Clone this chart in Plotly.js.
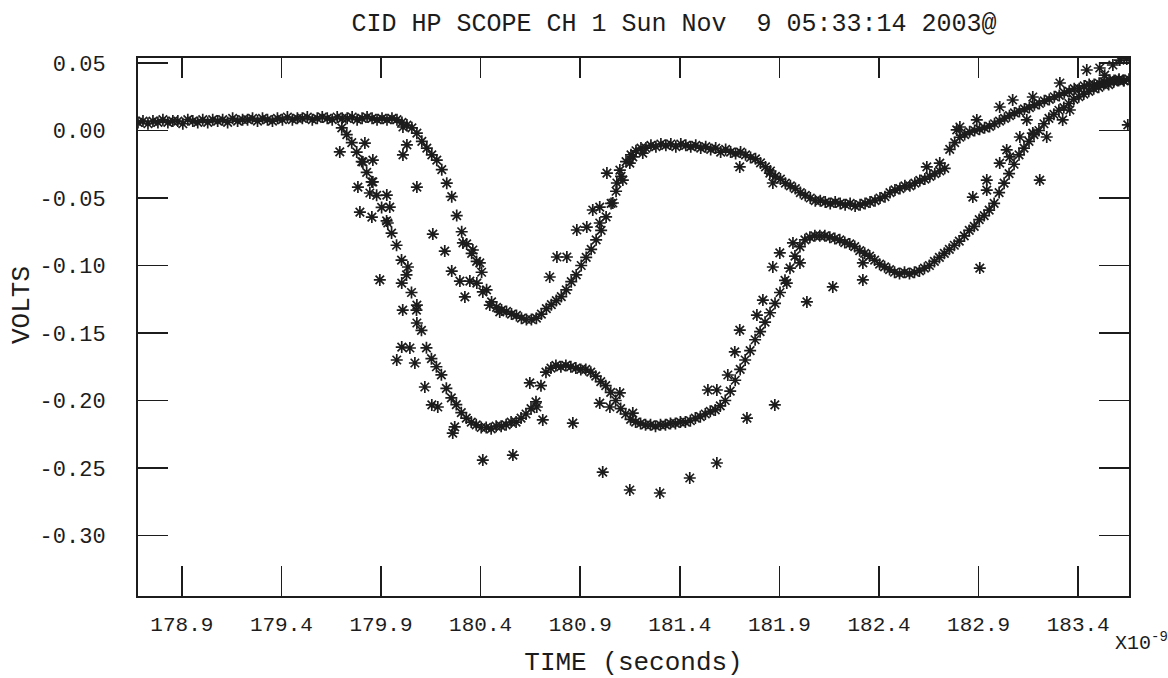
<!DOCTYPE html>
<html>
<head>
<meta charset="utf-8">
<script src="https://cdn.plot.ly/plotly-3.0.1.min.js"></script>
<style>
  html, body { margin: 0; padding: 0; background: #ffffff; }
  #chart { width: 1168px; height: 678px; }
</style>
</head>
<body>
<div id="chart"></div>
<script>
// ---- sampling grid of the two main sweeps (ns) ----
const sweepAStart = 178.68;
const sweepBStart = 179.703;
const sampleStep = 0.025;

// ---- sweep A (upper curve), volts ----
const sweepAVolts = [
  0.006,0.007,0.005,0.007,0.006,0.008,0.006,0.007,0.007,0.005,
  0.008,0.007,0.006,0.008,0.006,0.008,0.007,0.008,0.006,0.009,
  0.007,0.008,0.008,0.009,0.007,0.009,0.008,0.007,0.009,0.008,
  0.010,0.008,0.009,0.009,0.010,0.008,0.009,0.010,0.009,0.008,
  0.010,0.009,0.009,0.010,0.008,0.009,0.010,0.009,0.008,0.009,
  0.008,0.009,
  0.008,0.006,0.004,0.002,-0.002,-0.008,-0.013,-0.018,-0.022,-0.029,
  -0.039,-0.049,-0.063,-0.075,-0.084,-0.091,-0.097,-0.105,-0.118,-0.127,
  -0.131,-0.133,-0.134,-0.136,-0.137,-0.139,-0.140,-0.140,-0.139,-0.136,
  -0.132,-0.129,-0.126,-0.123,-0.118,-0.112,-0.107,-0.100,-0.094,-0.088,
  -0.081,-0.074,-0.064,-0.054,-0.045,-0.034,-0.023,-0.018,
  -0.015,-0.013,-0.013,-0.011,-0.012,-0.010,-0.011,-0.010,-0.012,-0.010,
  -0.011,-0.012,-0.011,-0.013,-0.012,-0.014,-0.013,-0.016,-0.014,-0.016,
  -0.017,-0.016,
  -0.018,-0.020,-0.021,-0.024,-0.027,-0.030,-0.034,-0.036,-0.039,-0.041,
  -0.043,-0.046,-0.048,-0.050,-0.052,-0.052,-0.053,-0.054,-0.053,-0.054,
  -0.055,-0.054,-0.056,-0.055,-0.054,-0.053,-0.052,-0.050,-0.049,-0.046,
  -0.044,-0.043,-0.041,-0.041,-0.039,-0.037,-0.036,-0.034,-0.032,-0.030,
  -0.028,
  -0.014,-0.009,-0.005,-0.003,-0.001,0.000,0.001,0.002,0.003,0.005,
  0.007,0.009,0.011,0.013,0.014,0.016,0.017,0.019,0.020,0.022,
  0.023,0.025,0.026,0.028,0.029,0.031,0.031,0.033,0.034,0.034,
  0.035,0.036,0.037,0.037,0.038,0.037,0.038
];

// ---- sweep B (lower curve), volts ----
const sweepBVolts = [
  0.002,-0.003,-0.009,-0.016,-0.023,-0.031,-0.038,-0.048,-0.057,-0.067,
  -0.076,-0.085,-0.096,-0.107,-0.120,-0.133,-0.148,-0.161,-0.169,-0.175,
  -0.181,-0.191,-0.198,-0.203,-0.209,-0.213,-0.216,-0.218,-0.220,-0.220,
  -0.221,-0.219,-0.219,-0.218,-0.216,-0.216,-0.213,-0.210,-0.206,-0.201,
  -0.189,-0.179,-0.176,-0.174,-0.175,-0.174,-0.175,-0.176,-0.177,-0.177,
  -0.179,-0.182,-0.186,-0.189,-0.194,-0.200,-0.206,-0.210,-0.214,-0.216,
  -0.217,-0.218,-0.218,-0.219,-0.218,-0.218,-0.217,-0.217,-0.216,-0.216,
  -0.215,-0.213,-0.212,-0.210,-0.208,-0.207,-0.204,-0.200,-0.193,-0.185,
  -0.177,-0.170,-0.163,-0.155,-0.149,-0.142,-0.135,-0.128,-0.120,-0.111,
  -0.102,-0.093,-0.086,-0.081,-0.079,-0.078,-0.078,-0.078,-0.079,-0.080,
  -0.081,-0.083,-0.084,-0.086,-0.089,-0.091,-0.093,-0.096,-0.099,-0.101,
  -0.103,-0.105,-0.106,-0.105,-0.106,-0.105,-0.104,-0.102,-0.100,-0.097,
  -0.094,-0.091,-0.088,-0.085,-0.082,-0.078,-0.074,-0.071,-0.066,-0.063,
  -0.059,-0.054,-0.046,-0.039,-0.032,-0.025,-0.018,-0.013,-0.008,-0.003,
  0.000,0.005,0.009,0.012,0.015,0.017,0.020,0.023,0.025,0.027,
  0.029,0.031,0.032,0.034,0.034,0.036,0.037,0.037
];

// ---- jittered copies of sweep A ----
const ghostATime = [
  180.010,180.030,180.010,180.080,180.160,180.220,180.255,180.296,180.311,180.361,
  180.396,180.346,180.381,180.411,180.321,180.446,180.496,
  180.747,180.783,180.833,180.883,180.933,180.963,180.998,180.998,181.064,
  181.034,181.084,181.099,181.114,181.149,181.164,181.214,
  181.701,181.852,181.867,
  182.640,182.705,182.790,182.806,182.891,183.006,183.071,183.172,183.308,
  183.443,183.508,183.533,183.574,183.609,183.644
];
const ghostAVolts = [
  0.0026,-0.0107,-0.0181,-0.0419,-0.0767,-0.0893,-0.1041,-0.1115,-0.0833,-0.0885,
  -0.0981,-0.1115,-0.1130,-0.1196,-0.1233,-0.1293,-0.1344,
  -0.1085,-0.0937,-0.0937,-0.0737,-0.0715,-0.0589,-0.0685,-0.0567,-0.0537,
  -0.0315,-0.0389,-0.0293,-0.0367,-0.0241,-0.0196,-0.0167,
  -0.0270,-0.0315,-0.0389,
  -0.0270,-0.0241,0.0004,0.0026,0.0078,0.0174,0.0226,0.0248,0.0352,
  0.0448,0.0463,0.0410,0.0485,0.0522,0.0530
];

// ---- jittered copies of sweep B ----
const ghostBTime = [
  179.693,179.819,179.809,179.859,179.784,179.859,179.844,179.929,179.794,179.854,
  179.944,179.934,179.894,180.004,180.035,180.009,180.080,180.080,180.004,180.045,
  179.979,180.070,180.120,180.155,180.185,180.270,180.260,
  180.647,180.682,180.998,181.049,181.099,181.164,
  181.541,181.586,181.641,181.676,181.701,181.787,181.817,181.867,181.902,181.937,
  181.968,182.003,182.038,182.168,182.319,182.319,
  182.871,182.941,182.941,183.006,183.041,183.056,183.107,183.142,183.172,183.242,
  183.322,183.358
];
const ghostBVolts = [
  -0.0159,-0.0093,-0.0233,-0.0219,-0.0419,-0.0381,-0.0463,-0.0478,-0.0604,-0.0641,
  -0.0567,-0.0685,-0.1107,-0.1130,-0.1011,-0.1330,-0.1293,-0.1426,-0.1604,-0.1611,
  -0.1700,-0.1722,-0.1900,-0.2033,-0.2048,-0.2196,-0.2241,
  -0.1870,-0.2048,-0.2019,-0.2048,-0.1944,-0.2093,
  -0.1922,-0.1922,-0.1811,-0.1640,-0.1478,-0.1367,-0.1256,-0.1011,-0.0907,-0.1130,
  -0.0833,-0.0981,-0.1270,-0.1159,-0.1107,-0.0981,
  -0.0493,-0.0441,-0.0367,-0.0241,-0.0144,-0.0196,-0.0048,0.0078,-0.0019,-0.0048,
  0.0078,0.0152
];

// ---- isolated stray samples ----
const strayTime = [
  180.411,180.562,180.712,180.863,181.013,181.149,181.300,181.450,181.586,181.737,
  181.877,182.906,183.207,183.649
];
const strayVolts = [
  -0.2441,-0.2404,-0.2144,-0.2167,-0.2530,-0.2663,-0.2685,-0.2574,-0.2463,-0.2130,
  -0.2033,-0.1019,-0.0367,0.0041
];

// ---- axes ----
const xTickVals = [178.9,179.4,179.9,180.4,180.9,181.4,181.9,182.4,182.9,183.4];
const xTickText = ['178.9','179.4','179.9','180.4','180.9','181.4','181.9','182.4','182.9','183.4'];
const yTickVals = [0.05,0.00,-0.05,-0.10,-0.15,-0.20,-0.25,-0.30];
const yTickText = ['0.05','0.00','-0.05','-0.10','-0.15','-0.20','-0.25','-0.30'];
const xRange = [178.68, 183.655];
const yRange = [-0.3448, 0.0537];

const ink = '#1c1c1c';
const mark = {symbol: 'asterisk-open', size: 10, color: ink, line: {width: 1.7, color: ink}};
const mono = 'Liberation Mono, Courier New, monospace';

const traces = [
  {type: 'scatter', mode: 'markers', name: 'sweep A', x0: sweepAStart, dx: sampleStep, y: sweepAVolts, marker: mark},
  {type: 'scatter', mode: 'markers', name: 'sweep B', x0: sweepBStart, dx: sampleStep, y: sweepBVolts, marker: mark},
  {type: 'scatter', mode: 'markers', name: 'sweep A jitter', x: ghostATime, y: ghostAVolts, marker: mark},
  {type: 'scatter', mode: 'markers', name: 'sweep B jitter', x: ghostBTime, y: ghostBVolts, marker: mark},
  {type: 'scatter', mode: 'markers', name: 'stray', x: strayTime, y: strayVolts, marker: mark, xaxis: 'x2'}
];

const axisCommon = {
  showgrid: false, zeroline: false, showline: true,
  linecolor: ink, linewidth: 2, ticks: 'inside', tickcolor: ink, tickwidth: 1.6
};

const layout = {
  width: 1168, height: 678,
  margin: {l: 138, r: 39, t: 58, b: 82},
  paper_bgcolor: '#ffffff', plot_bgcolor: '#ffffff',
  showlegend: false,
  title: {
    text: 'CID HP SCOPE CH 1 Sun Nov\u00a0\u00a09 05:33:14 2003@',
    font: {family: mono, size: 25, color: ink},
    xref: 'container', x: 0.577, xanchor: 'center',
    yref: 'container', y: 0.967, yanchor: 'middle'
  },
  xaxis: Object.assign({}, axisCommon, {
    range: xRange, tickvals: xTickVals, ticktext: xTickText, ticklen: 30,
    tickfont: {family: mono, size: 21, color: ink}, ticklabelstandoff: 8,
    title: {text: 'TIME (seconds)', font: {family: mono, size: 26, color: ink}, standoff: 18}
  }),
  xaxis2: Object.assign({}, axisCommon, {
    overlaying: 'x', side: 'top', anchor: 'y', matches: 'x', range: xRange,
    tickvals: xTickVals, ticklen: 20, showticklabels: false
  }),
  yaxis: Object.assign({}, axisCommon, {
    range: yRange, tickvals: yTickVals, ticktext: yTickText, ticklen: 30, mirror: 'ticks',
    tickfont: {family: mono, size: 22, color: ink}, ticklabelstandoff: 26
  }),
  annotations: [
    {
      text: 'VOLTS', xref: 'paper', yref: 'paper', textangle: -90,
      x: -0.117, y: 0.541, xanchor: 'center', yanchor: 'middle', showarrow: false,
      font: {family: mono, size: 26, color: ink}
    },
    {
      text: 'X10<sup>-9</sup>', xref: 'paper', yref: 'paper',
      x: 1.013, y: -0.086, xanchor: 'center', yanchor: 'middle', showarrow: false,
      font: {family: mono, size: 20, color: ink}
    }
  ]
};

Plotly.newPlot('chart', traces, layout, {displayModeBar: false, staticPlot: true});
</script>
</body>
</html>
